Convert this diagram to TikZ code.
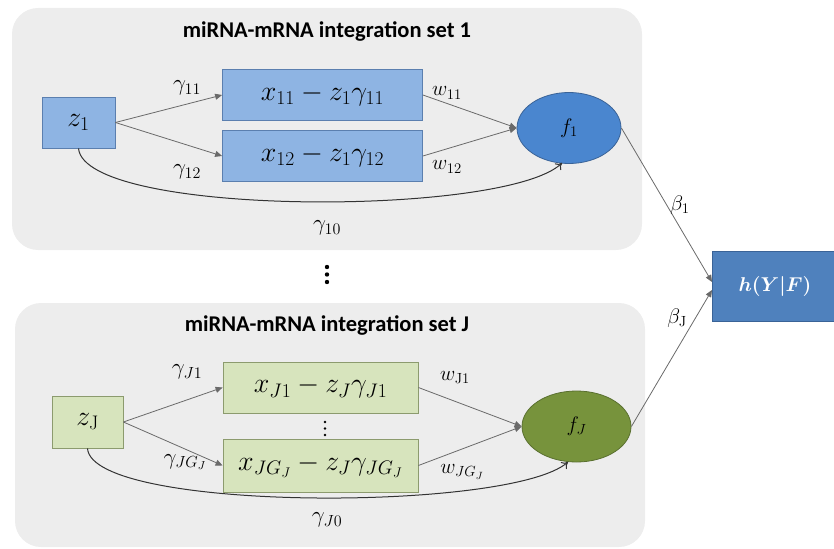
\RequirePackage{fix-cm}
\documentclass[tikz,border=0pt]{standalone}
\usepackage{fontspec}
\newfontfamily\titlefont{Carlito}
\usetikzlibrary{arrows.meta,shapes.geometric,calc}
\definecolor{panelgray}{HTML}{EDEDED}
\definecolor{bluebox}{HTML}{8EB4E3}
\definecolor{blueborder}{HTML}{5B7FAF}
\definecolor{blueell}{HTML}{4A86CF}
\definecolor{blueellb}{HTML}{3A6397}
\definecolor{hblue}{HTML}{4F81BD}
\definecolor{greenbox}{HTML}{D7E4BD}
\definecolor{greenborder}{HTML}{8C9B6E}
\definecolor{greenell}{HTML}{77933C}
\definecolor{greenellb}{HTML}{5A7030}
\definecolor{linegray}{HTML}{6A6A6A}
\tikzset{
  panel/.style={fill=panelgray, draw=none, rounded corners=26pt},
  titletext/.style={font=\titlefont\bfseries\fontsize{22.5}{26}\selectfont},
  bbox/.style={rectangle, fill=bluebox, draw=blueborder, line width=0.8pt, inner sep=0pt, font=\fontsize{28}{32}\selectfont},
  gbox/.style={rectangle, fill=greenbox, draw=greenborder, line width=0.8pt, inner sep=0pt, font=\fontsize{28}{32}\selectfont},
  lbl/.style={font=\fontsize{23}{26}\selectfont, inner sep=0pt},
  wlbl/.style={font=\fontsize{21}{24}\selectfont, inner sep=0pt},
  conn/.style={draw=linegray, line width=0.8pt, -{Triangle[length=7pt,width=6pt]}},
  curv/.style={draw=black!80, line width=1pt, -{To[length=6pt,width=9pt]}},
  hbox/.style={rectangle, fill=hblue, draw=blueellb, line width=0.8pt, minimum width=126pt, minimum height=70pt, inner sep=0pt, text=white, font=\fontsize{20}{24}\selectfont},
  bigdot/.style={fill=black},
}
\begin{document}
\begin{tikzpicture}[x=1pt,y=-1pt]
\useasboundingbox (0,0) rectangle (834,548);
% panels
\fill[panel] (12,8) rectangle (642,250);
\fill[panel] (15,303) rectangle (645,547);
\node[titletext] (t1) at (327,31) {miRNA-mRNA integration set 1};
\node[titletext] (t2) at (327,325) {miRNA-mRNA integration set J};
% set 1
\node[bbox, minimum width=73pt, minimum height=51pt] (z1) at (78.5,122.5) {$z_1$};
\node[bbox, minimum width=200pt, minimum height=51pt] (x11) at (322.5,95) {$x_{11}-z_1\gamma_{11}$};
\node[bbox, minimum width=200pt, minimum height=51pt] (x12) at (322.5,156) {$x_{12}-z_1\gamma_{12}$};
\node[ellipse, fill=blueell, draw=blueellb, line width=0.8pt, minimum width=104pt, minimum height=71pt, inner sep=0pt, font=\fontsize{21}{24}\selectfont] (f1) at (569,128) {$f_1$};
% set J
\node[gbox, minimum width=71pt, minimum height=52pt] (zJ) at (87.5,422) {$z_{\mathrm{J}}$};
\node[gbox, minimum width=195pt, minimum height=51pt] (xJ1) at (320.5,387.5) {$x_{J1}-z_J\gamma_{J1}$};
\node[gbox, minimum width=195pt, minimum height=53pt] (xJG) at (320.5,465.5) {$x_{JG_J}-z_J\gamma_{JG_J}$};
\node[ellipse, fill=greenell, draw=greenellb, line width=0.8pt, minimum width=109pt, minimum height=71pt, inner sep=0pt, font=\fontsize{21}{24}\selectfont] (fJ) at (576.5,426.5) {$f_J$};
% output
\node[hbox] (h) at (775,286) {{\boldmath$h(Y\vert F)$}};
% dots
\fill[bigdot] (327,267) circle (2.2pt) (327,274.5) circle (2.2pt) (327,282) circle (2.2pt);
\fill[bigdot] (325,422) circle (1.3pt) (325,428.5) circle (1.3pt) (325,435) circle (1.3pt);
% connectors set 1
\draw[conn] (z1.east) -- (x11.west);
\draw[conn] (z1.east) -- (x12.west);
\draw[conn] (x11.east) -- (f1.west);
\draw[conn] (x12.east) -- (f1.west);
\coordinate (f1b) at (562,163);
\draw[curv] (z1.south) .. controls (85,217) and (505,217) .. (f1b);
% connectors set J
\draw[conn] (zJ.east) -- (xJ1.west);
\draw[conn] (zJ.east) -- (xJG.west);
\draw[conn] (xJ1.east) -- (fJ.west);
\draw[conn] (xJG.east) -- (fJ.west);
\coordinate (fJb) at (568,462);
\draw[curv] (zJ.south) .. controls (92,512) and (510,512) .. (fJb);
% to output
\coordinate (hin1) at (712,282);
\coordinate (hin2) at (712,290);
\draw[conn] (f1.east) -- (hin1);
\draw[conn] (fJ.east) -- (hin2);
% labels
\node[lbl] (g11) at (187,88) {$\gamma_{11}$};
\node[lbl] (g12) at (187,172) {$\gamma_{12}$};
\node[lbl] (g10) at (327,228) {$\gamma_{10}$};
\node[wlbl] (w11) at (447,93) {$w_{11}$};
\node[wlbl] (w12) at (447,167) {$w_{12}$};
\node[wlbl] (b1) at (680,205) {$\beta_1$};
\node[lbl] (gJ1) at (187,372) {$\gamma_{J1}$};
\node[lbl] (gJG) at (185,462) {$\gamma_{JG_J}$};
\node[lbl] (gJ0) at (327,520) {$\gamma_{J0}$};
\node[wlbl] (wJ1) at (455,378) {$w_{\mathrm{J}1}$};
\node[wlbl] (wJG) at (462,472) {$w_{JG_J}$};
\node[wlbl] (bJ) at (677,318) {$\beta_{\mathrm{J}}$};
\end{tikzpicture}
\end{document}
